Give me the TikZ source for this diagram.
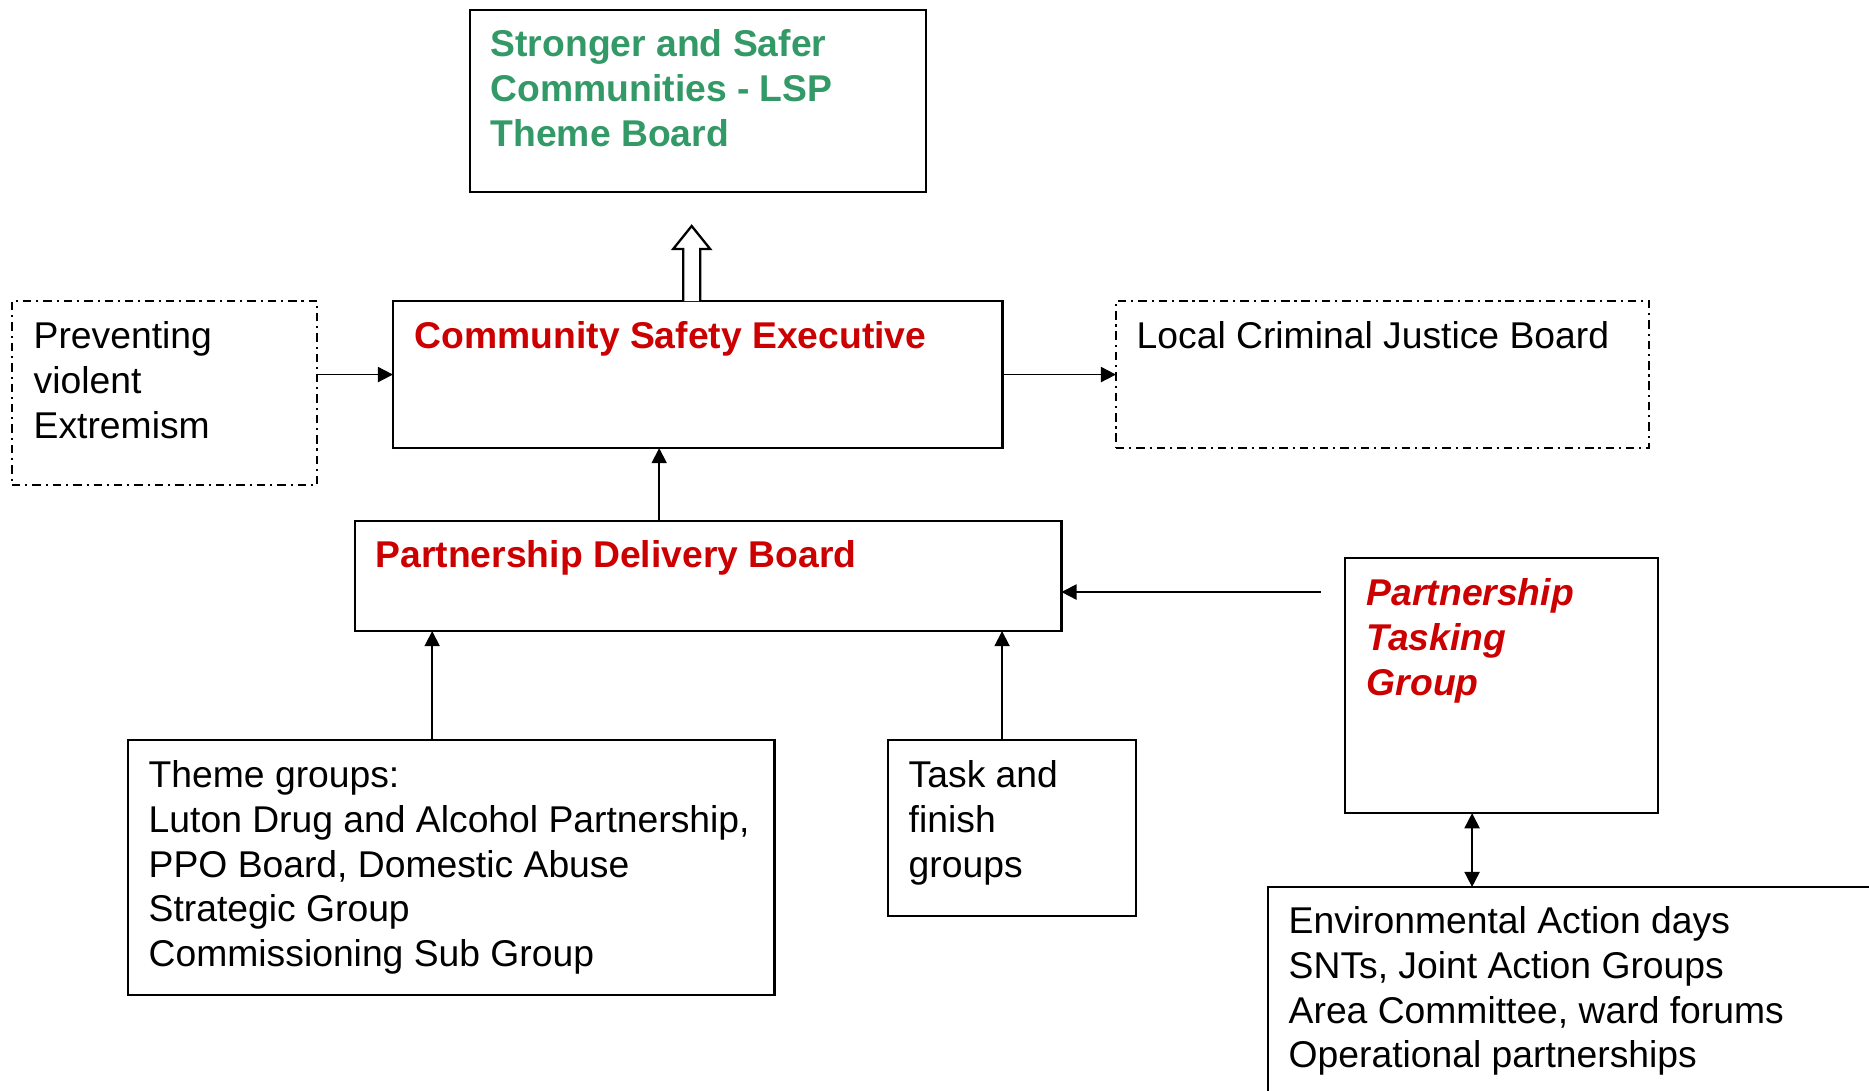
\documentclass[tikz,border=0pt]{standalone}
\usepackage{fontspec}
\setmainfont{Liberation Sans}
\usetikzlibrary{arrows.meta,calc}
\definecolor{board_green}{RGB}{51,153,102}
\definecolor{exec_red}{RGB}{204,0,0}
\newcommand{\boxfont}{\fontsize{10.6}{12.7}\selectfont}
\tikzset{flowtip/.tip={Triangle[length=4.3pt,width=4.3pt]}}

\begin{document}
\begin{tikzpicture}[x=0.01cm,y=-0.01cm,
    conn/.style={line width=0.5pt,-flowtip},
    panel/.style={draw,line width=0.65pt,rectangle,anchor=north west,inner sep=0pt,outer sep=0pt},
    dashpanel/.style={panel,dash pattern=on 2.4pt off 1.4pt on 0.6pt off 1.4pt},
    boxtext/.style={anchor=north west,inner sep=0pt,align=left,font=\boxfont},
    lead/.style={boxtext,font=\boxfont\bfseries,text=exec_red}]
  \useasboundingbox (0,0) rectangle (1869,1090);
  \clip (0,0) rectangle (1869,1090);
  \fill[white] (0,0) rectangle (1869,1090);

  % boxes
  \node[panel,minimum width=4.56cm,minimum height=1.82cm]     (ssc)   at (470,10)   {};
  \node[panel,minimum width=6.09cm,minimum height=1.47cm]     (cse)   at (393,301)  {};
  \node[dashpanel,minimum width=3.05cm,minimum height=1.84cm] (pve)   at (12,301)   {};
  \node[dashpanel,minimum width=5.33cm,minimum height=1.47cm] (lcjb)  at (1116,301) {};
  \node[panel,minimum width=7.06cm,minimum height=1.10cm]     (pdb)   at (355,521)  {};
  \node[panel,minimum width=3.13cm,minimum height=2.55cm]     (ptg)   at (1345,558) {};
  \node[panel,minimum width=6.46cm,minimum height=2.55cm]     (theme) at (128,740)  {};
  \node[panel,minimum width=2.48cm,minimum height=1.76cm]     (task)  at (888,740)  {};
  \node[panel,minimum width=7.00cm,minimum height=3.00cm]     (env)   at (1268,887) {};

  % texts
  \node[lead,text=board_green] (ssc_text) at ([shift={(0.2cm,-0.19cm)}]ssc.north west)
    {Stronger and Safer\\Communities - LSP\\Theme Board};
  \node[lead] (cse_text) at ([shift={(0.21cm,-0.2cm)}]cse.north west) {Community Safety Executive};
  \node[boxtext] (pve_text) at ([shift={(0.21cm,-0.2cm)}]pve.north west) {Preventing\\violent\\Extremism};
  \node[boxtext] (lcjb_text) at ([shift={(0.2cm,-0.2cm)}]lcjb.north west) {Local Criminal Justice Board};
  \node[lead] (pdb_text) at ([shift={(0.2cm,-0.19cm)}]pdb.north west) {Partnership Delivery Board};
  \node[lead,font=\boxfont\bfseries\itshape] (ptg_text) at ([shift={(0.21cm,-0.2cm)}]ptg.north west)
    {Partnership\\Tasking\\Group};
  \node[boxtext] (theme_text) at ([shift={(0.2cm,-0.2cm)}]theme.north west)
    {Theme groups:\\Luton Drug and Alcohol Partnership,\\PPO Board, Domestic Abuse\\Strategic Group\\Commissioning Sub Group};
  \node[boxtext] (task_text) at ([shift={(0.2cm,-0.2cm)}]task.north west) {Task and\\finish\\groups};
  \node[boxtext] (env_text) at ([shift={(0.2cm,-0.19cm)}]env.north west)
    {Environmental Action days\\SNTs, Joint Action Groups\\Area Committee, ward forums\\Operational partnerships};

  % open arrow up to the theme board
  \coordinate (up_base) at ([xshift=2.985cm]cse.north west);
  \draw[line width=0.65pt,fill=white] ($(up_base)+(-8.5,0)$) -- ++(0,-52) -- ++(-10,0)
    -- ++(18.5,-23) -- ++(18.5,23) -- ++(-10,0) -- ++(0,52);

  % connectors
  \draw[conn] (pve.east |- cse.west) -- (cse.west);
  \draw[conn] (cse.east) -- (lcjb.west);
  \coordinate (pdb_up) at ([xshift=3.04cm]pdb.north west);
  \draw[conn] (pdb_up) -- (pdb_up |- cse.south);
  \coordinate (theme_up) at ([xshift=3.04cm]theme.north west);
  \draw[conn] (theme_up) -- (theme_up |- pdb.south);
  \coordinate (task_up) at ([xshift=1.14cm]task.north west);
  \draw[conn] (task_up) -- (task_up |- pdb.south);
  \coordinate (ptg_in) at ([xshift=-0.24cm,yshift=-0.34cm]ptg.north west);
  \draw[conn] (ptg_in) -- (ptg_in -| pdb.east);
  \coordinate (ptg_down) at ([xshift=1.27cm]ptg.south west);
  \draw[conn,flowtip-flowtip] (ptg_down) -- (ptg_down |- env.north);
\end{tikzpicture}
\end{document}
